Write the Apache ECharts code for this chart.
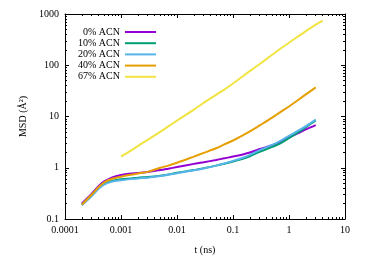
<!DOCTYPE html>
<html>
<head>
<meta charset="utf-8">
<script src="https://cdn.jsdelivr.net/npm/echarts@6/dist/echarts.min.js"></script>
<style>
html,body{margin:0;padding:0;background:#fff;}
#chart{width:374px;height:260px;}
</style>
</head>
<body>
<div id="chart"></div>
<script>
// ---- data ----
var seriesNames = ['0% ACN', '10% ACN', '20% ACN', '40% ACN', '67% ACN'];
var seriesColors = ['#9400d3', '#009e73', '#56b4e9', '#e69f00', '#f0e442'];

var tMain = [0.0002, 0.0003, 0.0004, 0.0005, 0.0007, 0.001, 0.0015, 0.002, 0.003, 0.005, 0.007,
  0.01, 0.02, 0.03, 0.05, 0.07, 0.1, 0.15, 0.2, 0.3, 0.5, 0.7, 1, 1.5, 2, 3];
var msd0 = [0.20, 0.31, 0.44, 0.54, 0.65, 0.72, 0.77, 0.79, 0.83, 0.90, 0.96,
  1.03, 1.19, 1.28, 1.42, 1.53, 1.65, 1.82, 1.98, 2.32, 2.75, 3.2, 3.9, 4.8, 5.6, 6.8];
var msd10 = [0.19, 0.29, 0.41, 0.49, 0.56, 0.60, 0.62, 0.64, 0.66, 0.70, 0.74,
  0.80, 0.90, 0.98, 1.10, 1.20, 1.32, 1.50, 1.68, 2.05, 2.55, 3.0, 3.8, 5.0, 6.2, 8.4];
var msd20 = [0.185, 0.28, 0.39, 0.47, 0.54, 0.57, 0.60, 0.62, 0.64, 0.69, 0.73,
  0.78, 0.89, 0.97, 1.10, 1.21, 1.36, 1.57, 1.78, 2.2, 2.8, 3.35, 4.2, 5.4, 6.5, 8.7];
var msd40 = [0.19, 0.30, 0.42, 0.52, 0.61, 0.67, 0.73, 0.77, 0.83, 1.0, 1.1,
  1.25, 1.65, 1.95, 2.4, 2.85, 3.4, 4.3, 5.1, 6.7, 9.5, 12.2, 15.7, 21.5, 27, 37];
var t67 = [0.001, 0.0015, 0.002, 0.003, 0.005, 0.007, 0.01, 0.02, 0.03, 0.05, 0.07,
  0.1, 0.15, 0.2, 0.3, 0.5, 0.7, 1, 1.5, 2, 3, 4];
var msd67 = [1.65, 2.15, 2.65, 3.5, 5.0, 6.4, 8.3, 13.6, 18.5, 26.5, 33.5,
  44, 61, 77, 106, 160, 210, 275, 375, 465, 620, 745];

var xTickLabels = {'-4': '0.0001', '-3': '0.001', '-2': '0.01', '-1': '0.1', '0': '1', '1': '10'};
var yTickLabels = {'-1': '0.1', '0': '1', '1': '10', '2': '100', '3': '1000'};

function pairs(t, v) { return t.map(function (x, i) { return [x, v[i]]; }); }
var seriesData = [pairs(tMain, msd0), pairs(tMain, msd10), pairs(tMain, msd20), pairs(tMain, msd40), pairs(t67, msd67)];

var font = 'Liberation Serif';
var axisLineStyle = {color: '#000', width: 1};
var tickStyle = {show: true, inside: true, length: 4, lineStyle: {color: '#000', width: 1}};
var minorStyle = {show: true, splitNumber: 9, length: 2, lineStyle: {color: '#000', width: 1}};

function xAxisCfg(pos, labels) {
  return {
    type: 'log', logBase: 10, min: 0.0001, max: 10, position: pos,
    axisLine: {show: true, onZero: false, lineStyle: axisLineStyle},
    axisTick: tickStyle, minorTick: minorStyle,
    splitLine: {show: false}, minorSplitLine: {show: false},
    axisLabel: {show: labels, margin: 6, color: '#000', fontFamily: font, fontSize: 10,
      formatter: function (v) { return xTickLabels[String(Math.round(Math.log10(v)))]; }},
    name: labels ? 't (ns)' : '', nameLocation: 'middle', nameGap: 26,
    nameTextStyle: {color: '#000', fontFamily: font, fontSize: 10}
  };
}
function yAxisCfg(pos, labels) {
  return {
    type: 'log', logBase: 10, min: 0.1, max: 1000, position: pos,
    axisLine: {show: true, onZero: false, lineStyle: axisLineStyle},
    axisTick: tickStyle, minorTick: minorStyle,
    splitLine: {show: false}, minorSplitLine: {show: false},
    axisLabel: {show: labels, margin: 6, color: '#000', fontFamily: font, fontSize: 10,
      formatter: function (v) { return yTickLabels[String(Math.round(Math.log10(v)))]; }},
    name: labels ? 'MSD (Å²)' : '', nameLocation: 'middle', nameGap: 36, nameRotate: 90,
    nameTextStyle: {color: '#000', fontFamily: font, fontSize: 10}
  };
}

var chart = echarts.init(document.getElementById('chart'), null, {renderer: 'canvas'});
chart.setOption({
  animation: false,
  backgroundColor: '#fff',
  grid: {left: 65, right: 29, top: 14, bottom: 37, containLabel: false},
  xAxis: [xAxisCfg('bottom', true), xAxisCfg('top', false)],
  yAxis: [yAxisCfg('left', true), yAxisCfg('right', false)],
  legend: {
    orient: 'vertical', align: 'right', left: 78, top: 27, padding: 0,
    icon: 'rect', itemWidth: 31, itemHeight: 2, itemGap: 1.2,
    textStyle: {color: '#000', fontFamily: font, fontSize: 10},
    data: seriesNames
  },
  series: seriesNames.map(function (name, i) {
    return {
      name: name, type: 'line', xAxisIndex: 0, yAxisIndex: 0,
      data: seriesData[i], symbol: 'none', smooth: 0.3,
      color: seriesColors[i],
      lineStyle: {color: seriesColors[i], width: 2}
    };
  })
});
</script>
</body>
</html>
